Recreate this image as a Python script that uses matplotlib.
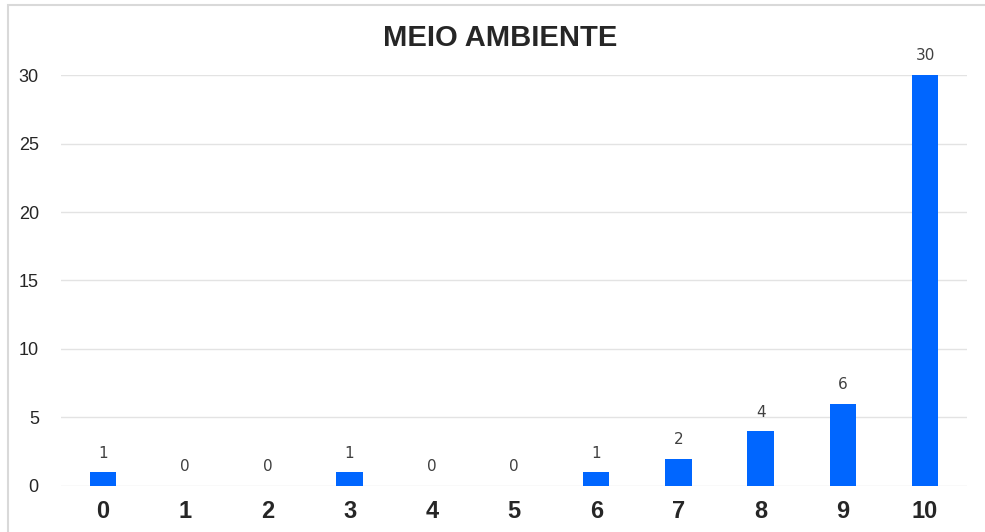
import numpy as np
import matplotlib.pyplot as plt
from matplotlib.patches import Rectangle

plt.rcParams['font.family'] = ['Liberation Sans', 'DejaVu Sans']

# notas de 0 a 10 e quantidade de respostas
notas = ['0', '1', '2', '3', '4', '5', '6', '7', '8', '9', '10']
respostas = [1, 0, 0, 1, 0, 0, 1, 2, 4, 6, 30]

fig = plt.figure(figsize=(9.85, 5.32), dpi=100)
ax = fig.add_axes([0.062, 0.0865, 0.9197, 0.7725])

x = np.arange(len(notas))
ax.bar(x, respostas, width=0.32, color='#0066FF', zorder=3)

for xi, v in zip(x, respostas):
    ax.text(xi, v + 0.85, str(v), ha='center', va='bottom', fontsize=11,
            family='DejaVu Sans', color='#404040', clip_on=False)

ax.set_xlim(-0.51, 10.51)
ax.set_ylim(0, 30)
ax.set_yticks(range(0, 31, 5))
ax.set_xticks(x)
ax.set_xticklabels(notas, fontsize=17, fontweight='bold', color='#262626')
ax.tick_params(axis='y', labelsize=13, colors='#262626', length=0, pad=16)
ax.tick_params(axis='x', length=0, pad=10)
ax.grid(axis='y', color='#e3e3e3', linewidth=1, zorder=0)
for s in ax.spines.values():
    s.set_visible(False)

fig.text(0.508, 0.929, 'MEIO AMBIENTE', ha='center', va='center',
         fontsize=21, fontweight='bold', color='#262626')

# moldura do gráfico
fig.patches.append(Rectangle((8 / 985, -0.01), 1.0, 1 - 5 / 532 + 0.01,
                             transform=fig.transFigure, fill=False,
                             edgecolor='#d9d9d9', linewidth=1.5))

fig.savefig('out.png', dpi=100)
